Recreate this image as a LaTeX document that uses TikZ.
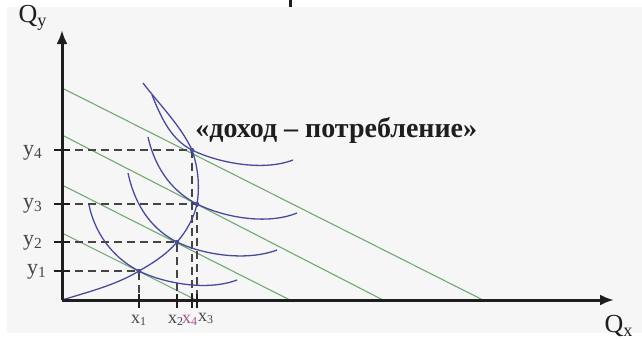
\documentclass[tikz,border=0pt]{standalone}
\usepackage{fontspec}
\setmainfont{Liberation Serif}
\usetikzlibrary{arrows.meta}
\definecolor{Ink}{HTML}{1E1E1E}
\definecolor{Muted}{HTML}{454545}
\definecolor{Paper}{HTML}{F6F6F6}
\definecolor{Budget}{HTML}{72A872}
\definecolor{Curve}{HTML}{4A4A9C}
\definecolor{Mark}{HTML}{A2528C}
\tikzset{
  axis/.style={line width=1.5pt,draw=Ink,-{Latex[length=7pt,width=5.5pt]}},
  budget/.style={draw=Budget,line width=0.55pt},
  indiff/.style={draw=Curve,line width=0.65pt},
  guide/.style={draw=Muted,line width=0.8pt,dash pattern=on 4pt off 2.5pt},
  tickmark/.style={draw=Ink,line width=1pt},
  ylbl/.style={text=Muted,inner sep=0pt,font=\fontsize{11}{13}\selectfont},
  xlbl/.style={text=Muted,inner sep=0pt,font=\fontsize{9}{11}\selectfont}
}
\begin{document}
\begin{tikzpicture}[x=.5pt,y=-.5pt]
\useasboundingbox (0,0) rectangle (642,338);
\fill[Paper] (7,7) rectangle (642,333);
\fill[Ink] (289,0) rectangle (292,7);
% axes and budget lines
\coordinate (O) at (62,300);
\coordinate (Ytop) at (62,30);
\coordinate (Xend) at (614,300);
\foreach \n/\ya/\xb in {1/233/196,2/185/290,3/135/383,4/88/483}{
  \coordinate (A\n) at (62,\ya);
  \coordinate (B\n) at (\xb,300);
  \draw[budget] (A\n) -- (B\n);
}
% equilibria with guides
\foreach \n/\x/\y in {1/139/271,2/177/242,3/197/204,4/192/150}{
  \coordinate (E\n) at (\x,\y);
  \coordinate (Py\n) at (62,\y);
  \coordinate (Px\n) at (\x,300);
  \draw[guide] (Py\n) -- (E\n) -- (Px\n);
  \draw[tickmark] ([xshift=-4pt]Py\n) -- ([xshift=4pt]Py\n);
  \draw[tickmark] ([yshift=3pt]Px\n) -- ([yshift=-4pt]Px\n);
}
% indifference curves
\draw[indiff] (89,205) .. controls (96,238) and (117,260) .. (E1) .. controls (161,282) and (205,292) .. (237,280);
\draw[indiff] (128,173) .. controls (136,210) and (155,231) .. (E2) .. controls (201,254) and (245,262) .. (277,250);
\draw[indiff] (148,137) .. controls (156,172) and (175,193) .. (E3) .. controls (221,216) and (265,226) .. (297,213);
\draw[indiff] (152,95) .. controls (162,120) and (172,140) .. (E4) .. controls (216,162) and (262,172) .. (293,160);
% income-consumption curve
\coordinate (T) at (143,83);
\draw[indiff] (O) .. controls (88,292) and (116,285) .. (E1)
  .. controls (153,263) and (167,254) .. (E2)
  .. controls (186,232) and (194,218) .. (E3)
  .. controls (200,186) and (198,167) .. (E4)
  .. controls (181,126) and (159,104) .. (T);
\foreach \n in {1,...,4}
  \fill[Curve] (E\n) circle (1.1pt);
\draw[axis] (O) -- (Ytop);
\draw[axis] (O) -- (Xend);
% labels
\node[font=\bfseries\fontsize{14}{16}\selectfont,text=Ink,anchor=base west,inner sep=0pt] (icc) at (195,137) {«доход – потребление»};
\node[text=Ink,inner sep=0pt,font=\fontsize{13}{15}\selectfont] (qy) at (33,18) {Q\textsubscript{y}};
\node[text=Ink,inner sep=0pt,font=\fontsize{13}{15}\selectfont] (qx) at (619,326) {Q\textsubscript{x}};
\node[ylbl] (y4) at (33,153) {y\textsubscript{4}};
\node[ylbl] (y3) at (33,206) {y\textsubscript{3}};
\node[ylbl] (y2) at (33,243) {y\textsubscript{2}};
\node[ylbl] (y1) at (37,272) {y\textsubscript{1}};
\node[xlbl] (x1) at (139,320) {x\textsubscript{1}};
\node[xlbl] (x2) at (176,320) {x\textsubscript{2}};
\node[xlbl,text=Mark] (x4) at (190,320) {x\textsubscript{4}};
\node[xlbl] (x3) at (206,318) {x\textsubscript{3}};
\end{tikzpicture}
\end{document}
